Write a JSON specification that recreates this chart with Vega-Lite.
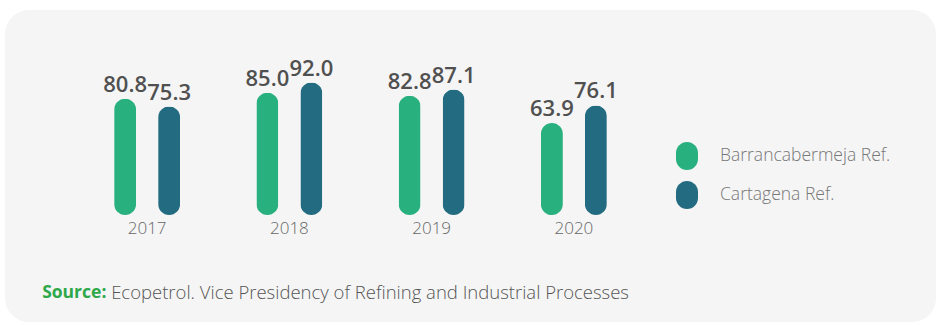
{
  "$schema": "https://vega.github.io/schema/vega-lite/v6.json",
  "width": 936,
  "height": 325,
  "autosize": {"type": "fit", "contains": "padding"},
  "padding": {"left": 5, "top": 10, "right": 0, "bottom": 3},
  "background": "#ffffff",
  "config": {
    "view": {"fill": "#f5f5f5", "stroke": null, "cornerRadius": 24},
    "font": "Open Sans",
    "legend": {
      "orient": "none",
      "legendX": 668,
      "legendY": 132,
      "padding": 0,
      "title": null,
      "symbolType": "M -0.786 -0.214 A 0.786 0.786 0 0 1 0.786 -0.214 L 0.786 0.214 A 0.786 0.786 0 0 1 -0.786 0.214 Z",
      "symbolSize": 784,
      "symbolStrokeWidth": 0,
      "symbolOpacity": 1,
      "labelFont": "Open Sans",
      "labelFontSize": 17.5,
      "labelFontWeight": 300,
      "labelColor": "#777777",
      "labelOffset": 19,
      "rowPadding": 10,
      "labelLimit": 300
    }
  },
  "data": {
    "values": [
      {"year": "2017", "series": "Barrancabermeja Ref.", "value": 80.8},
      {"year": "2017", "series": "Cartagena Ref.", "value": 75.3},
      {"year": "2018", "series": "Barrancabermeja Ref.", "value": 85.0},
      {"year": "2018", "series": "Cartagena Ref.", "value": 92.0},
      {"year": "2019", "series": "Barrancabermeja Ref.", "value": 82.8},
      {"year": "2019", "series": "Cartagena Ref.", "value": 87.1},
      {"year": "2020", "series": "Barrancabermeja Ref.", "value": 63.9},
      {"year": "2020", "series": "Cartagena Ref.", "value": 76.1}
    ]
  },
  "encoding": {
    "x": {
      "field": "year",
      "type": "nominal",
      "axis": null,
      "scale": {"domain": ["2017", "2018", "2019", "2020"], "range": [71, 640], "paddingInner": 0, "paddingOuter": 0}
    }
  },
  "layer": [
    {
      "mark": {"type": "bar", "cornerRadius": 11},
      "encoding": {
        "xOffset": {
          "field": "series",
          "type": "nominal",
          "scale": {"domain": ["Barrancabermeja Ref.", "Cartagena Ref."], "paddingInner": 0.5, "paddingOuter": 0.8665}
        },
        "y": {
          "field": "value",
          "type": "quantitative",
          "axis": null,
          "scale": {"domain": [-74.3, 142.4], "nice": false, "zero": false}
        },
        "color": {
          "field": "series",
          "type": "nominal",
          "scale": {"domain": ["Barrancabermeja Ref.", "Cartagena Ref."], "range": ["#29b07f", "#226b81"]}
        }
      }
    },
    {
      "mark": {"type": "text", "font": "Open Sans", "fontSize": 22, "fontWeight": 600, "color": "#505050", "baseline": "alphabetic", "dy": -7},
      "encoding": {
        "xOffset": {"field": "series", "type": "nominal"},
        "y": {"field": "value", "type": "quantitative"},
        "text": {"field": "value", "type": "quantitative", "format": ".1f"}
      }
    },
    {
      "transform": [{"filter": "datum.series === 'Cartagena Ref.'"}],
      "mark": {"type": "text", "font": "Open Sans", "fontSize": 17, "fontWeight": 300, "color": "#666666", "baseline": "middle"},
      "encoding": {
        "y": {"datum": -9.5},
        "text": {"field": "year", "type": "nominal"}
      }
    },
    {
      "data": {"values": [{"year": "2017", "label": "Source:"}]},
      "mark": {"type": "text", "font": "Open Sans", "fontSize": 17.5, "fontWeight": 700, "color": "#2ea84a", "baseline": "middle", "align": "left", "dx": -105},
      "encoding": {
        "y": {"datum": -54.2},
        "text": {"field": "label", "type": "nominal"}
      }
    },
    {
      "data": {"values": [{"year": "2017", "label": "Ecopetrol. Vice Presidency of Refining and Industrial Processes"}]},
      "mark": {"type": "text", "font": "Open Sans", "fontSize": 18.5, "fontWeight": 300, "color": "#555555", "baseline": "middle", "align": "left", "dx": -36},
      "encoding": {
        "y": {"datum": -54.2},
        "text": {"field": "label", "type": "nominal"}
      }
    }
  ]
}
